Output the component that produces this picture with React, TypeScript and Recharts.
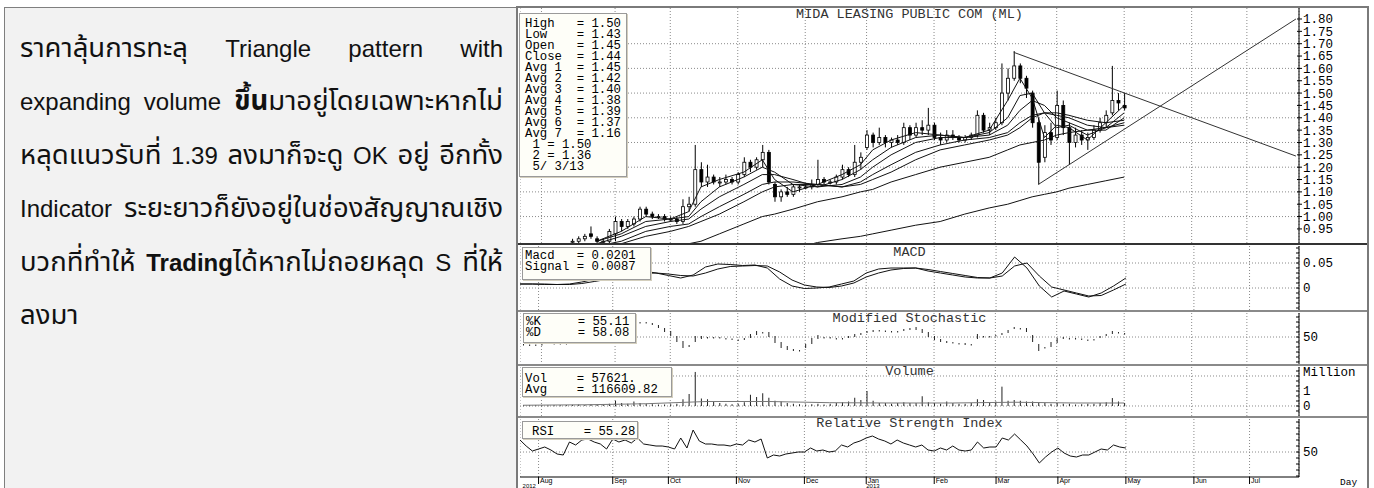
import React from "react";
import { ComposedChart, Bar, Line, XAxis, YAxis, CartesianGrid } from "recharts";

// one slot = two trading days, Jul 2012 .. Jul 2013
const SLOT_COUNT = 127;
const CANDLE_START = 8;

const OPEN = [
  0.90, 0.90, 0.91, 0.93, 0.91, 0.90, 0.90, 0.93, 0.98, 0.96,
  0.97, 0.99, 1.03, 1.01, 1.00, 1.00, 0.99, 0.99, 0.98, 1.04,
  1.05, 1.19, 1.14, 1.16, 1.14, 1.14, 1.15, 1.14, 1.17, 1.22,
  1.20, 1.23, 1.26, 1.13, 1.08, 1.10, 1.09, 1.12, 1.12, 1.12,
  1.13, 1.15, 1.14, 1.14, 1.16, 1.19, 1.17, 1.22, 1.28, 1.33,
  1.30, 1.32, 1.30, 1.31, 1.30, 1.36, 1.33, 1.36, 1.35, 1.37,
  1.32, 1.31, 1.33, 1.32, 1.31, 1.32, 1.33, 1.41, 1.35, 1.36,
  1.38, 1.50, 1.56, 1.61, 1.56, 1.50, 1.38, 1.24, 1.34, 1.32,
  1.45, 1.36, 1.30, 1.33, 1.31, 1.32, 1.35, 1.38, 1.42, 1.47,
  1.45,
];
const HIGH = [
  0.91, 0.92, 0.93, 0.96, 0.92, 0.91, 0.95, 1.00, 0.99, 0.99,
  1.00, 1.04, 1.04, 1.02, 1.01, 1.01, 1.00, 1.00, 1.07, 1.08,
  1.29, 1.22, 1.21, 1.17, 1.16, 1.17, 1.16, 1.18, 1.24, 1.23,
  1.24, 1.29, 1.27, 1.14, 1.11, 1.12, 1.13, 1.13, 1.13, 1.15,
  1.23, 1.16, 1.15, 1.17, 1.21, 1.20, 1.29, 1.26, 1.35, 1.34,
  1.36, 1.33, 1.32, 1.33, 1.38, 1.37, 1.38, 1.39, 1.44, 1.38,
  1.34, 1.35, 1.35, 1.33, 1.33, 1.34, 1.43, 1.42, 1.38, 1.40,
  1.62, 1.60, 1.67, 1.62, 1.57, 1.51, 1.40, 1.37, 1.38, 1.51,
  1.47, 1.38, 1.36, 1.35, 1.34, 1.37, 1.40, 1.43, 1.61, 1.50,
  1.50,
];
const LOW = [
  0.89, 0.89, 0.90, 0.91, 0.89, 0.89, 0.89, 0.90, 0.94, 0.95,
  0.96, 0.98, 1.00, 0.99, 0.99, 0.98, 0.98, 0.97, 0.97, 1.02,
  1.04, 1.12, 1.12, 1.13, 1.12, 1.13, 1.13, 1.13, 1.16, 1.18,
  1.19, 1.20, 1.13, 1.06, 1.06, 1.08, 1.08, 1.10, 1.11, 1.11,
  1.12, 1.13, 1.13, 1.13, 1.15, 1.16, 1.16, 1.19, 1.27, 1.28,
  1.29, 1.28, 1.28, 1.29, 1.29, 1.31, 1.32, 1.33, 1.33, 1.31,
  1.29, 1.30, 1.31, 1.30, 1.30, 1.31, 1.32, 1.34, 1.33, 1.35,
  1.37, 1.47, 1.55, 1.54, 1.48, 1.36, 1.13, 1.22, 1.29, 1.31,
  1.33, 1.21, 1.28, 1.29, 1.27, 1.31, 1.34, 1.36, 1.41, 1.43,
  1.43,
];
const CLOSE = [
  0.90, 0.91, 0.92, 0.92, 0.90, 0.90, 0.94, 0.98, 0.96, 0.98,
  0.99, 1.03, 1.01, 1.00, 1.00, 0.99, 0.99, 0.98, 1.04, 1.05,
  1.19, 1.14, 1.16, 1.14, 1.14, 1.15, 1.14, 1.17, 1.22, 1.20,
  1.23, 1.26, 1.14, 1.08, 1.10, 1.09, 1.12, 1.12, 1.12, 1.13,
  1.15, 1.14, 1.14, 1.16, 1.19, 1.17, 1.22, 1.24, 1.33, 1.30,
  1.32, 1.30, 1.31, 1.30, 1.36, 1.33, 1.36, 1.35, 1.37, 1.32,
  1.31, 1.33, 1.32, 1.31, 1.32, 1.33, 1.41, 1.35, 1.36, 1.38,
  1.50, 1.56, 1.61, 1.56, 1.52, 1.38, 1.22, 1.34, 1.31, 1.45,
  1.36, 1.30, 1.33, 1.31, 1.32, 1.35, 1.38, 1.41, 1.47, 1.46,
  1.44,
];

// moving averages, read at a few slots
const MA_SLOTS = [12, 16, 20, 24, 27, 29, 32, 36, 39, 41, 44, 48, 52, 55, 57, 60, 64, 68, 72, 76, 79, 81, 83, 85, 87, 89, 92, 95, 98];
const AVG1 = [0.90, 0.94, 1.00, 0.99, 1.02, 1.12, 1.15, 1.18, 1.23, 1.15, 1.10, 1.13, 1.17, 1.21, 1.27, 1.31, 1.34, 1.33, 1.32, 1.35, 1.47, 1.56, 1.48, 1.32, 1.37, 1.36, 1.31, 1.38, 1.45];
const AVG2 = [0.90, 0.93, 0.98, 0.99, 1.00, 1.06, 1.12, 1.16, 1.20, 1.18, 1.13, 1.12, 1.15, 1.19, 1.23, 1.28, 1.32, 1.33, 1.32, 1.34, 1.40, 1.49, 1.50, 1.42, 1.36, 1.37, 1.33, 1.36, 1.42];
const AVG3 = [0.89, 0.92, 0.96, 0.98, 0.99, 1.03, 1.08, 1.13, 1.17, 1.17, 1.15, 1.12, 1.13, 1.16, 1.20, 1.25, 1.30, 1.32, 1.32, 1.33, 1.37, 1.43, 1.47, 1.45, 1.40, 1.38, 1.35, 1.35, 1.40];
const AVG4 = [0.88, 0.90, 0.94, 0.96, 0.97, 1.00, 1.04, 1.09, 1.13, 1.14, 1.14, 1.13, 1.12, 1.14, 1.17, 1.21, 1.26, 1.29, 1.31, 1.32, 1.34, 1.38, 1.41, 1.42, 1.41, 1.40, 1.37, 1.36, 1.38];
const AVG5 = [0.87, 0.89, 0.92, 0.94, 0.96, 0.98, 1.01, 1.06, 1.10, 1.12, 1.13, 1.13, 1.12, 1.13, 1.15, 1.18, 1.23, 1.27, 1.29, 1.31, 1.33, 1.36, 1.40, 1.42, 1.42, 1.41, 1.39, 1.38, 1.39];
const AVG6 = [null, null, null, null, 0.89, 0.90, 0.93, 0.97, 1.00, 1.01, 1.03, 1.06, 1.08, 1.10, 1.11, 1.14, 1.17, 1.20, 1.22, 1.24, 1.27, 1.29, 1.30, 1.31, 1.33, 1.34, 1.35, 1.36, 1.37];
const AVG7 = [null, null, null, null, null, null, null, null, null, null, 0.87, 0.895, 0.91, 0.92, 0.93, 0.945, 0.965, 0.98, 1.01, 1.035, 1.05, 1.065, 1.08, 1.09, 1.10, 1.115, 1.13, 1.145, 1.16];

// hand-drawn triangle
const TREND_DOWN_SLOTS = [80, 126];
const TREND_DOWN = [1.665, 1.245];
const TREND_UP_SLOTS = [84, 126];
const TREND_UP = [1.13, 1.8];

// MACD every second slot from 0
const MACD = [
  0.008, 0.008, 0.007, 0.007, 0.008, 0.012, 0.017, 0.021, 0.026, 0.030,
  0.034, 0.030, 0.025, 0.020, 0.026, 0.042, 0.048, 0.047, 0.045, 0.046,
  0.040, 0.018, 0.004, -0.001, 0.000, 0.002, 0.008, 0.014, 0.030, 0.038,
  0.040, 0.040, 0.040, 0.034, 0.030, 0.026, 0.022, 0.020, 0.020, 0.030,
  0.062, 0.040, 0.004, -0.018, -0.006, -0.012, -0.018, -0.010, 0.004, 0.020,
];
const SIGNAL = [
  0.008, 0.008, 0.008, 0.007, 0.007, 0.009, 0.013, 0.017, 0.021, 0.025,
  0.029, 0.030, 0.028, 0.025, 0.024, 0.030, 0.038, 0.043, 0.044, 0.045,
  0.044, 0.032, 0.016, 0.006, 0.002, 0.001, 0.004, 0.010, 0.022, 0.030,
  0.036, 0.039, 0.040, 0.037, 0.033, 0.029, 0.025, 0.021, 0.020, 0.024,
  0.044, 0.050, 0.024, 0.002, -0.004, -0.010, -0.016, -0.015, -0.004, 0.008,
];

const STOCH_K = [
  36, 34, 32, 36, 40, 38, 36, 38, 42, 48, 55, 60, 65, 70, 75, 78, 80, 82, 82, 80,
  78, 74, 68, 60, 52, 40, 28, 30, 52, 52, 50, 50, 48, 48, 45, 42, 48, 56, 62, 60,
  50, 38, 28, 24, 22, 24, 36, 48, 54, 50, 48, 48, 48, 52, 56, 58, 62, 64, 64, 62,
  60, 62, 66, 68, 64, 58, 50, 44, 40, 38, 40, 38, 34, 36, 56, 52, 50, 54, 58, 64,
  70, 66, 60, 40, 22, 30, 40, 48, 50, 48, 46, 46, 42, 46, 52, 56, 62, 60, 55,
];
const STOCH_D = [
  34, 35, 35, 35, 36, 37, 38, 38, 38, 42, 48, 53, 58, 63, 68, 72, 74, 77, 78, 80,
  80, 78, 74, 68, 62, 52, 42, 34, 40, 46, 48, 50, 50, 48, 47, 45, 44, 48, 54, 58,
  60, 52, 40, 32, 26, 24, 28, 36, 46, 50, 50, 48, 46, 48, 50, 54, 58, 60, 62, 63,
  62, 61, 62, 64, 70, 66, 60, 52, 46, 42, 38, 38, 38, 36, 46, 50, 52, 52, 54, 58,
  66, 68, 68, 54, 36, 30, 30, 38, 46, 48, 48, 47, 45, 44, 48, 52, 56, 58, 58,
];

// volume in millions
const VOLUME = [
  0.05, 0.05, 0.05, 0.05, 0.04, 0.05, 0.05, 0.06, 0.08, 0.10,
  0.08, 0.12, 0.10, 0.10, 0.15, 0.35, 0.20, 0.15, 0.30, 0.20,
  0.15, 0.12, 0.10, 0.10, 0.12, 0.15, 0.45, 0.80, 2.27, 0.50,
  0.45, 0.30, 0.20, 0.15, 0.12, 0.15, 0.25, 0.75, 0.60, 0.85,
  0.55, 0.35, 0.30, 0.20, 0.15, 0.12, 0.10, 0.12, 0.15, 0.10,
  0.15, 0.20, 0.25, 0.30, 0.55, 0.40, 1.00, 0.35, 0.20, 0.20,
  0.15, 0.20, 0.25, 0.20, 0.20, 0.65, 0.25, 0.20, 0.15, 0.30,
  0.20, 0.15, 0.15, 0.20, 0.45, 0.40, 0.20, 0.30, 1.29, 0.35,
  0.40, 0.35, 0.30, 0.30, 0.25, 0.20, 0.15, 0.20, 0.15, 0.15,
  0.10, 0.12, 0.15, 0.15, 0.20, 0.25, 0.53, 0.30, 0.20,
];
const VOL_AVG_SLOTS = [0, 10, 20, 30, 40, 50, 60, 70, 80, 90, 98];
const VOL_AVG = [0.05, 0.08, 0.15, 0.3, 0.3, 0.22, 0.2, 0.2, 0.25, 0.2, 0.2];

const RSI = [
  62, 56, 51, 53, 55, 52, 48, 47, 60, 57, 62, 63, 60, 58, 53, 63, 60, 62, 59, 64,
  58, 57, 56, 56, 55, 53, 64, 54, 72, 61, 58, 58, 57, 57, 56, 58, 57, 62, 60, 63,
  44, 47, 46, 48, 49, 50, 50, 54, 51, 52, 50, 51, 57, 55, 59, 61, 64, 66, 63, 61,
  58, 62, 59, 57, 55, 57, 52, 51, 54, 52, 56, 52, 51, 52, 60, 54, 55, 55, 64, 62,
  68, 62, 56, 48, 39, 45, 50, 54, 49, 46, 45, 47, 47, 50, 53, 52, 57, 55, 54,
];

const MONTH_SLOTS = [3, 15, 24, 35, 46, 56, 67, 77, 87, 98, 109, 118];
const MONTH_LABELS = ["Aug", "Sep", "Oct", "Nov", "Dec", "Jan", "Feb", "Mar", "Apr", "May", "Jun", "Jul"];
const YEAR_LABELS: Record<number, string> = { 3: "2012", 56: "2013" };

const PRICE_TICKS = [0.95, 1.0, 1.05, 1.1, 1.15, 1.2, 1.25, 1.3, 1.35, 1.4, 1.45, 1.5, 1.55, 1.6, 1.65, 1.7, 1.75, 1.8];
const PRICE_GRID = [1.0, 1.1, 1.2, 1.3, 1.4, 1.5, 1.6, 1.7];
const MACD_TICKS = [-0.04, -0.03, -0.02, -0.01, 0, 0.01, 0.02, 0.03, 0.04, 0.05, 0.06, 0.07, 0.08];
const STOCH_TICKS = [0, 10, 20, 30, 40, 50, 60, 70, 80, 90];
const VOL_TICKS = [-0.333, 0, 0.333, 0.667, 1, 1.333, 1.667, 2, 2.333];
const RSI_TICKS = [26, 32, 38, 44, 50, 56, 62, 68, 74, 80];

type Row = { [key: string]: number | null | undefined };
const rows: Row[] = Array.from({ length: SLOT_COUNT }, (_, i) => ({ i }));
OPEN.forEach((v, k) => {
  const r = rows[CANDLE_START + k];
  r.o = v;
  r.h = HIGH[k];
  r.l = LOW[k];
  r.c = CLOSE[k];
});
MA_SLOTS.forEach((s, k) => {
  rows[s].a1 = AVG1[k];
  rows[s].a2 = AVG2[k];
  rows[s].a3 = AVG3[k];
  rows[s].a4 = AVG4[k];
  rows[s].a5 = AVG5[k];
  rows[s].a6 = AVG6[k];
  rows[s].a7 = AVG7[k];
});
TREND_DOWN_SLOTS.forEach((s, k) => (rows[s].td = TREND_DOWN[k]));
TREND_UP_SLOTS.forEach((s, k) => (rows[s].tu = TREND_UP[k]));
MACD.forEach((v, k) => {
  rows[k * 2].macd = v;
  rows[k * 2].sig = SIGNAL[k];
});
STOCH_K.forEach((v, k) => {
  rows[k].k = v;
  rows[k].d = STOCH_D[k];
  rows[k].v = VOLUME[k];
  rows[k].rsi = RSI[k];
});
VOL_AVG_SLOTS.forEach((s, k) => (rows[s].va = VOL_AVG[k]));

const MONO = "'Liberation Mono', 'DejaVu Sans Mono', monospace";
const LINE = "#111";
const GRID = "#8a8a8a";

const Candle = (p: any) => {
  const d = p.payload;
  if (!d || d.h == null) return <g />;
  const top = Math.min(p.y, p.y + p.height);
  const span = Math.abs(p.height);
  const toY = (v: number) => top + ((d.h - v) / (d.h - d.l || 1)) * span;
  const cx = p.x + p.width / 2;
  const yo = toY(d.o);
  const yc = toY(d.c);
  const bodyTop = Math.min(yo, yc);
  const bodyH = Math.max(1, Math.abs(yo - yc));
  return (
    <g>
      <line x1={cx} x2={cx} y1={top} y2={top + span} stroke="#000" strokeWidth={1} />
      <rect x={p.x} y={bodyTop} width={p.width} height={bodyH} fill={d.c < d.o ? "#000" : "#fff"} stroke="#000" strokeWidth={0.8} />
    </g>
  );
};

const StochMark = (p: any) => {
  const d = p.payload;
  if (!d || d.k == null) return <g />;
  const top = Math.min(p.y, p.y + p.height);
  const h = Math.max(Math.abs(p.height), 1.5);
  return <rect x={p.x + p.width / 2 - 0.5} y={top} width={1} height={h} fill="#222" />;
};

const VolMark = (p: any) => {
  const d = p.payload;
  if (!d || d.v == null) return <g />;
  const top = Math.min(p.y, p.y + p.height);
  return <rect x={p.x + p.width / 2 - 0.5} y={top} width={1} height={Math.max(Math.abs(p.height), 1)} fill="#222" />;
};

const MonthTick = (p: any) => {
  const slot = p.payload.value;
  const label = MONTH_LABELS[MONTH_SLOTS.indexOf(slot)];
  const year = YEAR_LABELS[slot];
  return (
    <g>
      <line x1={p.x} x2={p.x} y1={p.y} y2={p.y + 7} stroke="#000" />
      <text x={p.x + 1.5} y={p.y + 6} fontSize={7} fontFamily="'Liberation Sans', sans-serif" fill="#000">
        {label}
      </text>
      {year && (
        <text x={slot === 3 ? p.x - 16 : p.x} y={p.y + 10.5} fontSize={6} fontFamily="'Liberation Sans', sans-serif" fill="#000">
          {year}
        </text>
      )}
    </g>
  );
};

const CHART_W = 849;

// right-hand scale: label right of the axis line, tick mark drawn by hand
function makeRightTick(fmt: (v: number) => string, inside: boolean) {
  return (p: any) => (
    <g>
      <line x1={p.x - (inside ? 7 : 6)} x2={p.x - (inside ? 4 : 1)} y1={p.y} y2={p.y} stroke="#000" />
      <text x={p.x} y={p.y} dy="0.355em" fontSize={12.5} fontFamily={MONO} fill="#000">
        {fmt(p.payload.value)}
      </text>
    </g>
  );
}

const LeftTick = (p: any) => <line x1={p.x} x2={p.x + 3} y1={p.y} y2={p.y} stroke="#000" />;

function axes(domain: number[], ticks: number[], fmt: (v: number) => string, inside: boolean) {
  return [
    <YAxis
      key="r"
      orientation="right"
      width={70}
      domain={domain}
      allowDataOverflow
      ticks={ticks}
      interval={0}
      tick={makeRightTick(fmt, inside)}
      tickSize={0}
      tickMargin={4}
      axisLine={{ stroke: "#000" }}
      tickLine={false}
    />,
    <YAxis
      key="l"
      yAxisId="left"
      orientation="left"
      width={0}
      domain={domain}
      allowDataOverflow
      ticks={ticks}
      interval={0}
      tick={LeftTick}
      tickSize={0}
      tickMargin={0}
      axisLine={false}
      tickLine={false}
    />,
  ];
}

const hiddenX = <XAxis dataKey="i" type="category" ticks={MONTH_SLOTS} hide />;

function InfoBox(props: { left: number; top: number; width: number; height: number; padTop: number; padLeft: number; lineH: number; text: string }) {
  return (
    <div
      style={{
        position: "absolute",
        left: props.left,
        top: props.top,
        width: props.width,
        height: props.height,
        boxSizing: "border-box",
        background: "#fefef8",
        border: "1px solid #9a9a9a",
        boxShadow: "1px 1px 0 #d4cfbd",
        paddingTop: props.padTop,
        paddingLeft: props.padLeft,
        fontFamily: MONO,
        fontSize: 12.3,
        lineHeight: `${props.lineH}px`,
        whiteSpace: "pre",
        color: "#000",
        overflow: "hidden",
      }}
    >
      {props.text}
    </div>
  );
}

function Title({ top, text }: { top: number; text: string }) {
  return (
    <div
      style={{
        position: "absolute",
        left: 520,
        top,
        width: 779,
        textAlign: "center",
        fontFamily: MONO,
        fontSize: 13.5,
        lineHeight: "14px",
        color: "#333",
        whiteSpace: "pre",
      }}
    >
      {text}
    </div>
  );
}

const THAI_FONT = "'Liberation Sans', Arial, 'Noto Sans Thai', 'Noto Sans Thai UI', Tahoma, sans-serif";

// Thai runs are set a little larger than the Latin words around them
const Th = ({ children }: { children: React.ReactNode }) => <span style={{ fontSize: 27.5 }}>{children}</span>;

function ThaiLine({ children, last }: { children: React.ReactNode; last?: boolean }) {
  return (
    <div style={{ textAlign: last ? "left" : "justify", textAlignLast: last ? "left" : "justify", whiteSpace: "nowrap" }}>
      {children}
    </div>
  );
}

export default function App() {
  return (
    <div style={{ position: "absolute", left: 0, top: 0, width: 1374, height: 488, background: "#fff", overflow: "hidden" }}>
      {/* commentary panel */}
      <div
        style={{
          position: "absolute",
          left: 4,
          top: 7,
          width: 513,
          height: 490,
          boxSizing: "border-box",
          background: "#f2f2f2",
          border: "1px solid #7f7f7f",
        }}
      >
        <div style={{ position: "absolute", left: 15, top: 14, width: 483, fontFamily: THAI_FONT, fontSize: 24, lineHeight: "52.4px", color: "#111" }}>
          <ThaiLine>
            <Th>ราคาลุ้นการทะลุ</Th> Triangle pattern with
          </ThaiLine>
          <ThaiLine>
            expanding volume <Th><b>ขึ้น</b>มาอยู่โดยเฉพาะหากไม่</Th>
          </ThaiLine>
          <ThaiLine>
            <Th>หลุดแนวรับที่</Th> 1.39 <Th>ลงมาก็จะดู</Th> OK <Th>อยู่</Th> <Th>อีกทั้ง</Th>
          </ThaiLine>
          <ThaiLine>
            Indicator <Th>ระยะยาวก็ยังอยู่ในช่องสัญญาณเชิง</Th>
          </ThaiLine>
          <ThaiLine>
            <Th>บวกที่ทำให้</Th> <b>Trading</b><Th>ได้หากไม่ถอยหลุด</Th> S <Th>ที่ให้</Th>
          </ThaiLine>
          <ThaiLine last>
            <Th>ลงมา</Th>
          </ThaiLine>
        </div>
      </div>

      {/* chart frame */}
      <div style={{ position: "absolute", left: 516, top: 6, width: 853, height: 490, boxSizing: "border-box", border: "2px solid #7a7a7a", borderBottom: "none" }} />

      {/* price */}
      <div style={{ position: "absolute", left: 520, top: 8 }}>
        <ComposedChart width={CHART_W} height={235} data={rows} margin={{ top: 0, right: 0, bottom: 0, left: 0 }}>
          <CartesianGrid stroke={GRID} strokeDasharray="1 2" horizontalValues={PRICE_GRID} />
          {hiddenX}
          {axes([0.893, 1.8445], PRICE_TICKS, (v) => v.toFixed(2), false)}
          <Line dataKey="a7" stroke={LINE} strokeWidth={1} dot={false} connectNulls isAnimationActive={false} />
          <Line dataKey="a6" stroke={LINE} strokeWidth={1} dot={false} connectNulls isAnimationActive={false} />
          <Line dataKey="a5" stroke={LINE} strokeWidth={1} dot={false} connectNulls isAnimationActive={false} />
          <Line dataKey="a4" stroke={LINE} strokeWidth={1} dot={false} connectNulls isAnimationActive={false} />
          <Line dataKey="a3" stroke={LINE} strokeWidth={1} dot={false} connectNulls isAnimationActive={false} />
          <Line dataKey="a2" stroke={LINE} strokeWidth={1} dot={false} connectNulls isAnimationActive={false} />
          <Line dataKey="a1" stroke={LINE} strokeWidth={1} dot={false} connectNulls isAnimationActive={false} />
          <Bar dataKey={(d: Row) => (d.h == null ? null : [d.l, d.h])} barSize={3} shape={Candle} isAnimationActive={false} />
          <Line dataKey="td" stroke="#333" strokeWidth={1} dot={false} connectNulls isAnimationActive={false} />
          <Line dataKey="tu" stroke="#333" strokeWidth={1} dot={false} connectNulls isAnimationActive={false} />
        </ComposedChart>
      </div>

      {/* MACD */}
      <div style={{ position: "absolute", left: 520, top: 246 }}>
        <ComposedChart width={CHART_W} height={64} data={rows} margin={{ top: 0, right: 0, bottom: 0, left: 0 }}>
          <CartesianGrid stroke={GRID} strokeDasharray="1 2" horizontalValues={[0, 0.05]} />
          {hiddenX}
          {axes([-0.044, 0.084], MACD_TICKS, (v) => (v === 0 ? "0" : v === 0.05 ? "0.05" : ""), true)}
          <Line dataKey="sig" stroke={LINE} strokeWidth={1} dot={false} connectNulls isAnimationActive={false} />
          <Line dataKey="macd" stroke={LINE} strokeWidth={1} dot={false} connectNulls isAnimationActive={false} />
        </ComposedChart>
      </div>

      {/* stochastic */}
      <div style={{ position: "absolute", left: 520, top: 313 }}>
        <ComposedChart width={CHART_W} height={51} data={rows} margin={{ top: 0, right: 0, bottom: 0, left: 0 }}>
          <CartesianGrid stroke={GRID} strokeDasharray="1 2" horizontalValues={[50]} />
          {hiddenX}
          {axes([-4, 98], STOCH_TICKS, (v) => (v === 50 ? "50" : ""), true)}
          <Bar
            dataKey={(d: Row) => (d.k == null ? null : [Math.min(d.k as number, d.d as number), Math.max(d.k as number, d.d as number)])}
            barSize={1}
            shape={StochMark}
            isAnimationActive={false}
          />
        </ComposedChart>
      </div>

      {/* volume */}
      <div style={{ position: "absolute", left: 520, top: 367 }}>
        <ComposedChart width={CHART_W} height={49} data={rows} margin={{ top: 0, right: 0, bottom: 0, left: 0 }}>
          <CartesianGrid stroke={GRID} strokeDasharray="1 2" horizontalValues={[0, 2]} />
          {hiddenX}
          {axes([-0.667, 2.6], VOL_TICKS, (v) => (v === 0 ? "0" : v === 1 ? "1" : ""), true)}
          <Bar dataKey="v" barSize={1} shape={VolMark} isAnimationActive={false} />
          <Line dataKey="va" stroke="#777" strokeWidth={1} dot={false} connectNulls isAnimationActive={false} />
        </ComposedChart>
      </div>

      {/* RSI */}
      <div style={{ position: "absolute", left: 520, top: 419 }}>
        <ComposedChart width={CHART_W} height={69} data={rows} margin={{ top: 0, right: 0, bottom: 0, left: 0 }}>
          <CartesianGrid stroke={GRID} strokeDasharray="1 2" horizontalValues={[50]} />
          <XAxis
            dataKey="i"
            type="category"
            ticks={MONTH_SLOTS}
            interval={0}
            height={11}
            tickSize={0}
            tickMargin={0}
            tick={MonthTick}
            axisLine={{ stroke: "#000" }}
            tickLine={false}
          />
          {axes([25, 83], RSI_TICKS, (v) => (v === 50 ? "50" : ""), true)}
          <Line dataKey="rsi" stroke={LINE} strokeWidth={1} dot={false} connectNulls isAnimationActive={false} />
        </ComposedChart>
      </div>

      {/* panel separators */}
      {[243, 310, 364, 416].map((y) => (
        <div key={y} style={{ position: "absolute", left: 518, top: y, width: 849, height: 2, background: y === 243 ? "#333" : "#8a8a8a" }} />
      ))}

      <Title top={8} text="MIDA LEASING PUBLIC COM (ML)" />
      <Title top={246} text="MACD" />
      <Title top={312} text="Modified Stochastic" />
      <Title top={365} text="Volume" />
      <Title top={417} text="Relative Strength Index" />

      <InfoBox left={519} top={13} width={108} height={164} padTop={4.5} padLeft={5} lineH={11.06}
        text={"High   = 1.50\nLow    = 1.43\nOpen   = 1.45\nClose  = 1.44\nAvg 1  = 1.45\nAvg 2  = 1.42\nAvg 3  = 1.40\nAvg 4  = 1.38\nAvg 5  = 1.39\nAvg 6  = 1.37\nAvg 7  = 1.16\n 1 = 1.50\n 2 = 1.36\n 5/ 3/13"} />
      <InfoBox left={522} top={247} width={129} height={33} padTop={3} padLeft={2} lineH={11.3} text={"Macd   = 0.0201\nSignal = 0.0087"} />
      <InfoBox left={523} top={313} width={113} height={30} padTop={3} padLeft={2} lineH={11} text={"%K     = 55.11\n%D     = 58.08"} />
      <InfoBox left={522} top={367} width={150} height={30} padTop={6} padLeft={2} lineH={10.5} text={"Vol    = 57621.\nAvg    = 116609.82"} />
      <InfoBox left={522} top={421} width={116} height={18} padTop={5} padLeft={9} lineH={11} text={"RSI    = 55.28"} />

      <div style={{ position: "absolute", left: 1303, top: 366, fontFamily: MONO, fontSize: 12.5, lineHeight: "14px", color: "#000" }}>Million</div>
      <div style={{ position: "absolute", left: 1340, top: 478, fontFamily: MONO, fontSize: 9.5, lineHeight: "10px", color: "#000" }}>Day</div>
    </div>
  );
}
